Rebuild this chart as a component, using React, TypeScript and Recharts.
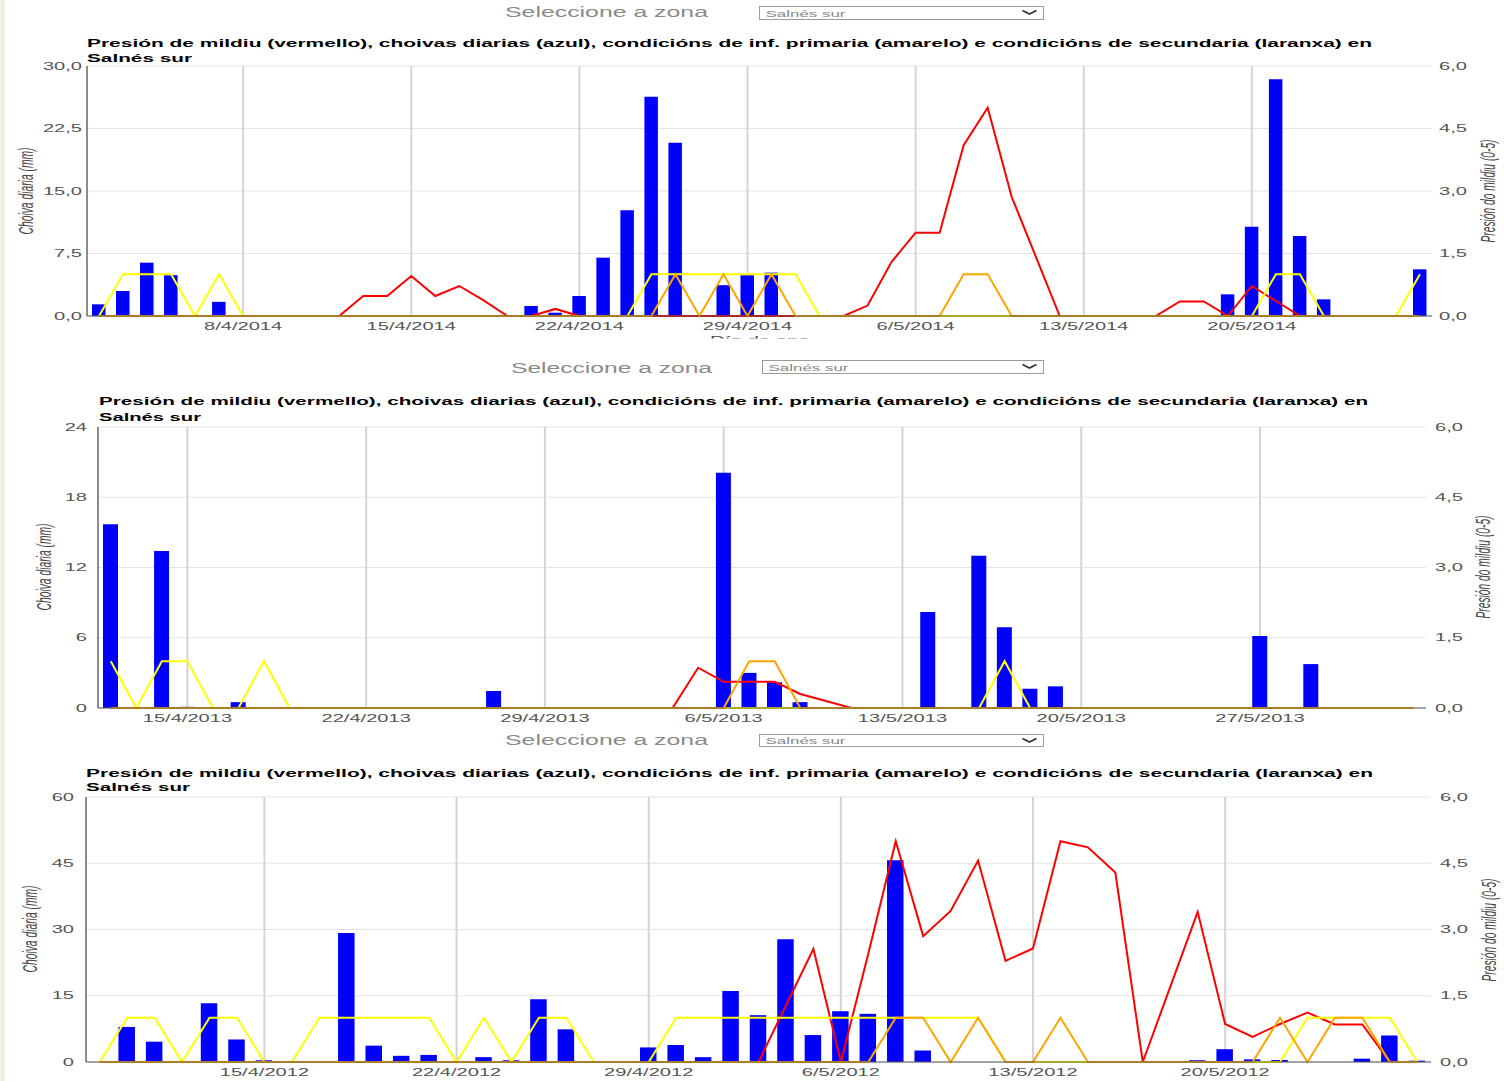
import React from 'react';
import { ComposedChart, Bar, Line, XAxis, YAxis, CartesianGrid } from 'recharts';

const FONT = '"Liberation Sans", Arial, Helvetica, sans-serif';
const SX = 1.95;

// ---------- 2014 (2/4/2014 .. 27/5/2014) ----------
const RAIN_2014 = [
  1.4, 3.0, 6.4, 4.9, 0, 1.7, 0,
  0, 0, 0, 0, 0, 0, 0,
  0, 0, 0, 0, 1.2, 0.4, 2.4,
  7.0, 12.7, 26.3, 20.8, 0, 3.7, 4.9,
  5.2, 0, 0, 0, 0, 0, 0,
  0, 0, 0, 0, 0, 0, 0,
  0, 0, 0, 0, 0, 2.6, 10.7,
  28.4, 9.6, 2.0, 0, 0, 0, 5.6,
];
const PRESS_2014 = [
  0, 0, 0, 0, 0, 0, 0,
  0, 0, 0, 0, 0.48, 0.48, 0.96,
  0.48, 0.72, 0.38, 0, 0, 0.17, 0,
  0, 0, 0, 0, 0, 0, 0,
  0, 0, 0, 0, 0.25, 1.3, 2.0,
  2.0, 4.1, 5.0, 2.86, 1.43, 0, 0,
  0, 0, 0, 0.35, 0.35, 0, 0.72,
  0.36, 0, 0, 0, 0, 0, 0,
];
const PRIM_2014 = [
  0, 1, 1, 1, 0, 1, 0,
  0, 0, 0, 0, 0, 0, 0,
  0, 0, 0, 0, 0, 0, 0,
  0, 0, 1, 1, 1, 1, 1,
  1, 1, 0, 0, 0, 0, 0,
  0, 0, 0, 0, 0, 0, 0,
  0, 0, 0, 0, 0, 0, 0,
  1, 1, 0, 0, 0, 0, 1,
];
const SEC_2014 = [
  0, 0, 0, 0, 0, 0, 0,
  0, 0, 0, 0, 0, 0, 0,
  0, 0, 0, 0, 0, 0, 0,
  0, 0, 0, 1, 0, 1, 0,
  1, 0, 0, 0, 0, 0, 0,
  0, 1, 1, 0, 0, 0, 0,
  0, 0, 0, 0, 0, 0, 0,
  0, 0, 0, 0, 0, 0, 0,
];
const TICKS_2014 = ['8/4/2014', '15/4/2014', '22/4/2014', '29/4/2014', '6/5/2014', '13/5/2014', '20/5/2014'];

// ---------- 2013 (12/4/2013 .. 2/6/2013) ----------
const RAIN_2013 = [
  15.7, 0, 13.4, 0.1, 0, 0.5, 0,
  0, 0, 0, 0, 0, 0, 0,
  0, 1.45, 0, 0, 0, 0, 0,
  0, 0, 0, 20.1, 3.0, 2.2, 0.5,
  0, 0, 0, 0, 8.2, 0, 13.0,
  6.9, 1.65, 1.85, 0, 0, 0, 0,
  0, 0, 0, 6.15, 0, 3.75, 0,
  0, 0, 0,
];
const PRESS_2013 = [
  0, 0, 0, 0, 0, 0, 0,
  0, 0, 0, 0, 0, 0, 0,
  0, 0, 0, 0, 0, 0, 0,
  0, 0, 0.86, 0.56, 0.56, 0.56, 0.3,
  0.15, 0, 0, 0, 0, 0, 0,
  0, 0, 0, 0, 0, 0, 0,
  0, 0, 0, 0, 0, 0, 0,
  0, 0, 0,
];
const PRIM_2013 = [
  1, 0, 1, 1, 0, 0, 1,
  0, 0, 0, 0, 0, 0, 0,
  0, 0, 0, 0, 0, 0, 0,
  0, 0, 0, 0, 0, 0, 0,
  0, 0, 0, 0, 0, 0, 0,
  1, 0, 0, 0, 0, 0, 0,
  0, 0, 0, 0, 0, 0, 0,
  0, 0, 0,
];
const SEC_2013 = [
  0, 0, 0, 0, 0, 0, 0,
  0, 0, 0, 0, 0, 0, 0,
  0, 0, 0, 0, 0, 0, 0,
  0, 0, 0, 0, 1, 1, 0,
  0, 0, 0, 0, 0, 0, 0,
  0, 0, 0, 0, 0, 0, 0,
  0, 0, 0, 0, 0, 0, 0,
  0, 0, 0,
];
const TICKS_2013 = ['15/4/2013', '22/4/2013', '29/4/2013', '6/5/2013', '13/5/2013', '20/5/2013', '27/5/2013'];

// ---------- 2012 (9/4/2012 .. 27/5/2012) ----------
const RAIN_2012 = [
  0, 7.9, 4.6, 0, 13.3, 5.1, 0.4,
  0, 0.2, 29.2, 3.7, 1.4, 1.6, 0,
  1.1, 0.4, 14.2, 7.4, 0, 0, 3.3,
  3.85, 1.1, 16.1, 10.6, 27.8, 6.1, 11.5,
  10.9, 45.7, 2.6, 0, 0, 0, 0,
  0, 0, 0, 0, 0, 0.4, 2.9,
  0.6, 0.45, 0, 0, 0.75, 6.0, 0.3,
];
const PRESS_2012 = [
  0, 0, 0, 0, 0, 0, 0,
  0, 0, 0, 0, 0, 0, 0,
  0, 0, 0, 0, 0, 0, 0,
  0, 0, 0, 0, 1.28, 2.56, 0,
  2.45, 5.0, 2.85, 3.42, 4.56, 2.29, 2.57,
  5.0, 4.86, 4.29, 0, 1.7, 3.4, 0.86,
  0.57, 0.86, 1.12, 0.85, 0.85, 0, 0,
];
const PRIM_2012 = [
  0, 1, 1, 0, 1, 1, 0,
  0, 1, 1, 1, 1, 1, 0,
  1, 0, 1, 1, 0, 0, 0,
  1, 1, 1, 1, 1, 1, 1,
  1, 1, 1, 1, 1, 0, 0,
  0, 0, 0, 0, 0, 0, 0,
  0, 0, 1, 1, 1, 1, 0,
];
const SEC_2012 = [
  0, 0, 0, 0, 0, 0, 0,
  0, 0, 0, 0, 0, 0, 0,
  0, 0, 0, 0, 0, 0, 0,
  0, 0, 0, 0, 0, 0, 0,
  0, 1, 1, 0, 1, 0, 0,
  1, 0, 0, 0, 0, 0, 0,
  0, 1, 0, 1, 1, 0, 0,
];
const TICKS_2012 = ['15/4/2012', '22/4/2012', '29/4/2012', '6/5/2012', '13/5/2012', '20/5/2012'];

const TITLE = 'Presión de mildiu (vermello), choivas diarias (azul), condicións de inf. primaria (amarelo) e condicións de secundaria (laranxa) en';
const ZONE = 'Salnés sur';
const LEFT_TITLE = 'Choiva diaria (mm)';
const RIGHT_TITLE = 'Presión do mildiu (0-5)';

function dayLabels(d0: number, m0: number, y: number, n: number): string[] {
  const out: string[] = [];
  const t0 = Date.UTC(y, m0 - 1, d0);
  for (let k = 0; k < n; k++) {
    const t = new Date(t0 + k * 86400000);
    out.push(`${t.getUTCDate()}/${t.getUTCMonth() + 1}/${t.getUTCFullYear()}`);
  }
  return out;
}

type Panel = {
  top: number; height: number;
  plotLeft: number; plotRight: number; plotTop: number; plotBottom: number;
  days: string[]; rain: number[]; press: number[]; prim: number[]; sec: number[];
  ticks: string[]; leftMax: number; leftDecimals: boolean; barSize: number;
  leftGap: number; rightGap: number;
};

const PANELS: Panel[] = [
  {
    top: 0, height: 345, plotLeft: 87, plotRight: 1432, plotTop: 66, plotBottom: 316,
    days: dayLabels(2, 4, 2014, RAIN_2014.length), rain: RAIN_2014, press: PRESS_2014, prim: PRIM_2014, sec: SEC_2014,
    ticks: TICKS_2014, leftMax: 30, leftDecimals: true, barSize: 13.5, leftGap: 5, rightGap: 7,
  },
  {
    top: 350, height: 380, plotLeft: 98, plotRight: 1426, plotTop: 427, plotBottom: 708,
    days: dayLabels(12, 4, 2013, RAIN_2013.length), rain: RAIN_2013, press: PRESS_2013, prim: PRIM_2013, sec: SEC_2013,
    ticks: TICKS_2013, leftMax: 24, leftDecimals: false, barSize: 15, leftGap: 11, rightGap: 9,
  },
  {
    top: 730, height: 351, plotLeft: 86, plotRight: 1431, plotTop: 797, plotBottom: 1062,
    days: dayLabels(9, 4, 2012, RAIN_2012.length), rain: RAIN_2012, press: PRESS_2012, prim: PRIM_2012, sec: SEC_2012,
    ticks: TICKS_2012, leftMax: 60, leftDecimals: false, barSize: 16.5, leftGap: 12, rightGap: 9,
  },
];

const fmt1 = (v: number) => v.toFixed(1).replace('.', ',');
const none = () => [] as number[];

function PanelChart({ p }: { p: Panel }) {
  const data = p.rain.map((r, i) => ({ i, rain: r, press: p.press[i], prim: p.prim[i], sec: p.sec[i] }));
  const n = data.length;
  const tickIdx = p.ticks.map((t) => p.days.indexOf(t));
  const leftTicks = [0, 0.25, 0.5, 0.75, 1].map((f) => f * p.leftMax);
  const rightTicks = [0, 1.5, 3, 4.5, 6];
  const xH = 20;
  const margin = { top: p.plotTop - p.top, bottom: p.top + p.height - p.plotBottom - xH, left: 0, right: 0 };

  const XTick = (props: any) => (
    <text transform={`translate(${props.x},${props.y + 14}) scale(${SX},1)`} textAnchor="middle"
      fontSize={10.3} fill="#555" fontFamily={FONT}>{p.days[props.payload.value]}</text>
  );
  const LTick = (props: any) => (
    <text transform={`translate(${props.x - p.leftGap},${props.y + 3.7}) scale(${SX},1)`} textAnchor="end"
      fontSize={10.3} fill="#555" fontFamily={FONT}>
      {p.leftDecimals ? fmt1(props.payload.value) : String(props.payload.value)}
    </text>
  );
  const RTick = (props: any) => (
    <text transform={`translate(${props.x + p.rightGap},${props.y + 3.7}) scale(${SX},1)`} textAnchor="start"
      fontSize={10.3} fill="#555" fontFamily={FONT}>{fmt1(props.payload.value)}</text>
  );
  // vertical grid only at the date ticks, positioned through the x axis scale
  const vGen = (args: any) => {
    const s = args && args.xAxis && args.xAxis.scale;
    if (typeof s === 'function') return tickIdx.map((t) => s(t));
    if (s && typeof s.map === 'function') return tickIdx.map((t) => s.map(t));
    const o = args.offset;
    return tickIdx.map((t) => o.left + ((t + 0.5) / n) * o.width);
  };

  return (
    <div style={{ position: 'absolute', left: 0, top: p.top }}>
      <ComposedChart width={1504} height={p.height} data={data} margin={margin}>
        <CartesianGrid yAxisId="left" vertical={false} verticalCoordinatesGenerator={none}
          stroke="#e3e3e3" strokeWidth={1} />
        <CartesianGrid yAxisId="left" horizontal={false} horizontalCoordinatesGenerator={none}
          stroke="#d4d4d4" strokeWidth={2} verticalCoordinatesGenerator={vGen} />
        <XAxis type="number" dataKey="i" domain={[-0.5, n - 0.5]} ticks={tickIdx} interval={0}
          height={xH} tickLine={false} tickSize={0} tickMargin={0}
          axisLine={{ stroke: '#555', strokeWidth: 1 }} tick={(props: any) => <XTick {...props} />} />
        <YAxis yAxisId="left" orientation="left" width={p.plotLeft} domain={[0, p.leftMax]} ticks={leftTicks}
          interval={0} tickLine={false} tickSize={0} tickMargin={0}
          axisLine={{ stroke: '#666', strokeWidth: 1.5 }} tick={(props: any) => <LTick {...props} />} />
        <YAxis yAxisId="right" orientation="right" width={1504 - p.plotRight} domain={[0, 6]} ticks={rightTicks}
          interval={0} tickLine={false} tickSize={0} tickMargin={0} axisLine={false}
          tick={(props: any) => <RTick {...props} />} />
        <Bar yAxisId="left" dataKey="rain" fill="#0000ff" barSize={p.barSize} isAnimationActive={false} />
        <Line yAxisId="right" type="linear" dataKey="press" stroke="#ff0000" strokeWidth={2} dot={false} activeDot={false} isAnimationActive={false} />
        <Line yAxisId="right" type="linear" dataKey="prim" stroke="#ffff00" strokeWidth={2} dot={false} activeDot={false} isAnimationActive={false} />
        <Line yAxisId="right" type="linear" dataKey="sec" stroke="#ffa500" strokeWidth={2} dot={false} activeDot={false} isAnimationActive={false} />
      </ComposedChart>
    </div>
  );
}

type Header = {
  zoneX: number; zoneW: number; zoneBase: number;
  selX: number; selY: number; selW: number; selH: number;
  titleX: number; titleW: number; titleBase: number; title2W: number; title2Base: number;
  leftCx: number; leftCy: number; rightCx: number; rightCy: number;
};

const HEADERS: Header[] = [
  { zoneX: 505, zoneW: 203, zoneBase: 17, selX: 759.5, selY: 6.5, selW: 284, selH: 13,
    titleX: 87, titleW: 1285, titleBase: 47, title2W: 105, title2Base: 61.5,
    leftCx: 26, leftCy: 191, rightCx: 1488, rightCy: 191 },
  { zoneX: 511, zoneW: 201, zoneBase: 372.5, selX: 762.5, selY: 360.5, selW: 281, selH: 13,
    titleX: 99, titleW: 1269, titleBase: 405, title2W: 102, title2Base: 420.5,
    leftCx: 43.5, leftCy: 567, rightCx: 1482.5, rightCy: 567 },
  { zoneX: 505, zoneW: 203, zoneBase: 745, selX: 759.5, selY: 734.5, selW: 284, selH: 12,
    titleX: 86, titleW: 1287, titleBase: 776.7, title2W: 104, title2Base: 791,
    leftCx: 30, leftCy: 929, rightCx: 1489, rightCy: 930 },
];

function Overlay() {
  return (
    <svg width={1504} height={1081} style={{ position: 'absolute', left: 0, top: 0, pointerEvents: 'none' }}>
      <defs>
        <clipPath id="cutXTitle"><rect x={0} y={0} width={1504} height={338.5} /></clipPath>
      </defs>
      <rect x={0} y={0} width={5} height={1081} fill="#f2f0e2" />
      {HEADERS.map((h, k) => (
        <g key={k} fontFamily={FONT}>
          <text x={h.zoneX} y={h.zoneBase} fontSize={14} fill="#8a8a8a" textLength={h.zoneW} lengthAdjust="spacingAndGlyphs">Seleccione a zona</text>
          <rect x={h.selX} y={h.selY} width={h.selW} height={h.selH} fill="#fff" stroke="#9a9a9a" strokeWidth={1} />
          <text x={h.selX + 6} y={h.selY + h.selH - 3} fontSize={9.5} fill="#888" textLength={80} lengthAdjust="spacingAndGlyphs">{ZONE}</text>
          <polyline points={`${h.selX + h.selW - 21},${h.selY + 4} ${h.selX + h.selW - 14},${h.selY + 7.5} ${h.selX + h.selW - 7},${h.selY + 4}`}
            fill="none" stroke="#333" strokeWidth={1.6} />
          <text x={h.titleX} y={h.titleBase} fontSize={11} fontWeight="bold" fill="#000" textLength={h.titleW} lengthAdjust="spacingAndGlyphs">{TITLE}</text>
          <text x={h.titleX} y={h.title2Base} fontSize={11} fontWeight="bold" fill="#000" textLength={h.title2W} lengthAdjust="spacingAndGlyphs">{ZONE}</text>
          <text transform={`translate(${h.leftCx},${h.leftCy}) scale(${SX},1) rotate(-90)`} textAnchor="middle" dy="0.35em"
            fontSize={10.3} fontStyle="italic" fill="#444" textLength={87} lengthAdjust="spacingAndGlyphs">{LEFT_TITLE}</text>
          <text transform={`translate(${h.rightCx},${h.rightCy}) scale(${SX},1) rotate(-90)`} textAnchor="middle" dy="0.35em"
            fontSize={10.3} fontStyle="italic" fill="#444" textLength={103} lengthAdjust="spacingAndGlyphs">{RIGHT_TITLE}</text>
        </g>
      ))}
      <g clipPath="url(#cutXTitle)">
        <text x={710} y={343.5} fontSize={10.3} fill="#444" fontFamily={FONT} textLength={100} lengthAdjust="spacingAndGlyphs">Día do ano</text>
      </g>
    </svg>
  );
}

export default function App() {
  return (
    <div style={{ position: 'absolute', left: 0, top: 0, width: 1504, height: 1081, background: '#fff', overflow: 'hidden', fontFamily: FONT }}>
      {PANELS.map((p, k) => <PanelChart key={k} p={p} />)}
      <Overlay />
    </div>
  );
}
